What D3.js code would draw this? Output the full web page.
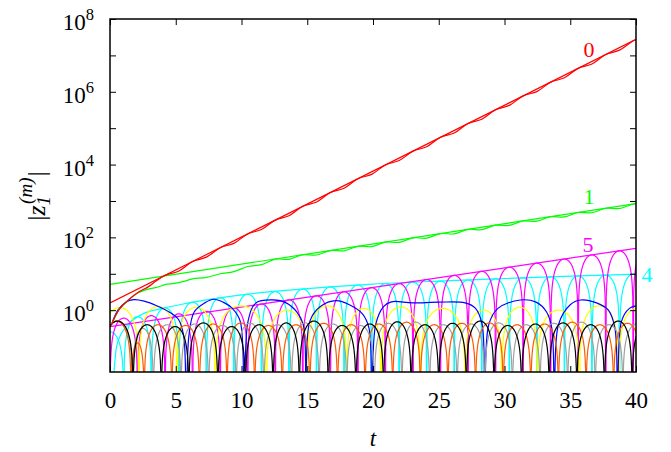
<!DOCTYPE html>
<html>
<head>
<meta charset="utf-8">
<script src="https://cdn.jsdelivr.net/npm/d3@7"></script>
<style>
  body { margin: 0; background: #fff; }
</style>
</head>
<body>
<div id="chart"></div>
<script>
// ---- data (values are log10 of |z|) ----
const tTicks = [0, 5, 10, 15, 20, 25, 30, 35, 40];
const decadeTicks = [0, 1, 2, 3, 4, 5, 6, 7, 8];
const decadeLabels = [0, 2, 4, 6, 8];

// straight envelopes [t, log10]
const redLine = [[0, 0.2], [40, 7.44]];
const greenLine = [[0, 0.708], [40, 2.93]];
const magentaLine = [[0, -0.45], [40, 1.70]];
const cyanLine = [[0.3, -1.7], [0.5, -1.0], [0.9, -0.62], [1.5, -0.35], [2.4, -0.12], [4, 0.05], [6, 0.2],
  [10, 0.42], [15, 0.59], [20, 0.716], [25, 0.8], [30, 0.87], [35, 0.935], [40, 0.99]];

// wavy curves [t, log10]
const redWavy = [[0.1, -0.41], [0.7, 0.02], [1.4, 0.28], [2.1, 0.48], [2.9, 0.64], [3.5, 0.8], [4.19, 0.958],
  [5.24, 1.078], [6.28, 1.337], [7.33, 1.457], [8.38, 1.717], [9.42, 1.835], [10.47, 2.095], [11.52, 2.215],
  [12.57, 2.475], [13.61, 2.593], [14.66, 2.853], [15.71, 2.974], [16.76, 3.234], [17.80, 3.352], [18.85, 3.612],
  [19.90, 3.732], [20.94, 3.990], [21.99, 4.110], [23.04, 4.370], [24.08, 4.488], [25.13, 4.749], [26.18, 4.869],
  [27.23, 5.129], [28.27, 5.247], [29.32, 5.507], [30.37, 5.627], [31.42, 5.887], [32.46, 6.005], [33.51, 6.265],
  [34.56, 6.385], [35.60, 6.644], [36.65, 6.764], [37.70, 7.024], [38.75, 7.144], [39.79, 7.402], [40, 7.43]];
const greenWavy = [[0.1, -0.41], [0.7, 0.02], [1.4, 0.28], [2.1, 0.47], [2.9, 0.58], [3.6, 0.63], [4.19, 0.7],
  [4.9, 0.735], [5.6, 0.79], [6.28, 0.86], [7.33, 0.9], [8.38, 1.0], [9.42, 1.06], [10.47, 1.2], [11.52, 1.25],
  [12.57, 1.40], [13.61, 1.398], [14.66, 1.522], [15.71, 1.515], [16.76, 1.638], [17.80, 1.631], [18.85, 1.754],
  [19.90, 1.747], [20.94, 1.870], [21.99, 1.863], [23.04, 1.987], [24.08, 1.979], [25.13, 2.103], [26.18, 2.096],
  [27.23, 2.219], [28.27, 2.212], [29.32, 2.335], [30.37, 2.329], [31.42, 2.452], [32.46, 2.445], [33.51, 2.568],
  [34.56, 2.561], [35.60, 2.684], [36.65, 2.677], [37.70, 2.800], [38.75, 2.794], [39.79, 2.916], [40, 2.92]];
const blueWavy = [[0.1, -0.41], [0.6, 0.0], [1.2, 0.22], [1.8, 0.29], [2.6, 0.25], [3.5, 0.13], [4.5, -0.05],
  [5.2, -0.25], [5.6, -0.7], [5.8, -2.5], [6.0, -0.7], [6.4, -0.05], [7.2, 0.2], [7.9, 0.3], [8.6, 0.22],
  [9.3, 0.05], [9.9, -0.3], [10.2, -2.5], [10.5, -0.3], [11.1, 0.2], [12.4, 0.28], [13.4, 0.2], [14.2, -0.05],
  [14.7, -0.4], [14.9, -2.5], [15.2, -0.3], [16.0, 0.1], [17.2, 0.26], [18.2, 0.15], [19.2, -0.1], [19.7, -0.5],
  [19.9, -2.5], [20.2, -0.4], [20.8, 0.1], [21.4, 0.23], [23.0, 0.2], [25.0, 0.22], [27.0, 0.2], [27.8, 0.05],
  [28.3, -0.4], [28.5, -2.5], [28.8, -0.4], [29.5, 0.05], [31.2, 0.28], [32.4, 0.22], [33.2, -0.05], [33.6, -0.5],
  [33.8, -2.5], [34.1, -0.4], [35.0, 0.15], [35.8, 0.28], [37.0, 0.2], [37.9, 0.0], [38.4, -0.5], [38.6, -2.5],
  [38.9, -0.3], [39.5, 0.05], [40, 0.12]];

// arches: consecutive zeros (t) and peak height (log10) of each arch
const magentaZeros = [0, 2.09, 4.19, 6.28, 8.38, 10.47, 12.57, 14.66, 16.76, 18.85, 20.94, 23.04, 25.13, 27.23,
  29.32, 31.42, 33.51, 35.60, 37.70, 39.79, 41.89];
const magentaPeaks = [-0.22, -0.15, -0.1, -0.03, 0.06, 0.169, 0.281, 0.394, 0.506, 0.619, 0.731, 0.843, 0.956,
  1.068, 1.181, 1.293, 1.406, 1.518, 1.631, 1.743];
const cyanZeros = [-0.99, 1.05, 3.14, 5.24, 7.33, 9.42, 11.52, 13.61, 15.71, 17.80, 19.90, 21.99, 24.08, 26.18,
  28.27, 30.37, 32.46, 34.56, 36.65, 38.75, 40.84];
const cyanPeaks = [-0.6, -0.18, 0.06, 0.22, 0.34, 0.44, 0.51, 0.58, 0.64, 0.69, 0.73, 0.77, 0.80, 0.83, 0.86,
  0.89, 0.915, 0.94, 0.965, 0.99];
const yellowZeros = [-0.7, 2.2, 5.1, 8.0, 11.9, 15.0, 18.0, 20.6, 23.6, 27.0, 29.8, 32.5, 35.7, 38.7, 41.5];
const yellowPeaks = [0.07, 0.1, 0.08, 0.12, 0.0, 0.12, 0.05, 0.09, 0.05, 0.0, 0.08, 0.0, 0.12, 0.06];
const blackZeros = [-0.6, 1.75, 3.9, 6.0, 8.2, 10.3, 12.4, 14.4, 16.6, 18.7, 20.8, 22.9, 25.0, 27.1, 29.2, 31.3,
  33.4, 35.5, 37.6, 39.7, 41.8];
const blackPeaks = [-0.3, -0.4, -0.45, -0.35, -0.45, -0.4, -0.35, -0.3, -0.42, -0.38, -0.32, -0.4, -0.36, -0.3,
  -0.42, -0.38, -0.35, -0.4, -0.3, -0.38];
const orangeZeros = [-0.6, 1.6, 2.6, 4.7, 6.8, 8.9, 11.0, 13.1, 15.2, 17.3, 19.4, 21.5, 23.6, 25.7, 27.8, 29.9,
  32.0, 34.1, 36.2, 38.3, 40.4];
const orangePeaks = [-0.3, -0.9, -0.4, -0.42, -0.38, -0.35, -0.42, -0.4, -0.36, -0.4, -0.38, -0.33, -0.4, -0.36,
  -0.35, -0.4, -0.38, -0.33, -0.4, -0.36];
const greyZeros = [-0.6, 1.7, 3.3, 5.4, 7.5, 9.6, 11.7, 13.8, 15.9, 18.0, 20.1, 22.2, 24.3, 26.4, 28.5, 30.6,
  32.7, 34.8, 36.9, 39.0, 41.1];
const greyPeaks = [-0.3, -0.5, -0.4, -0.38, -0.42, -0.36, -0.4, -0.35, -0.38, -0.42, -0.36, -0.33, -0.4, -0.38,
  -0.35, -0.4, -0.36, -0.33, -0.4, -0.38];

// curve labels
const labelText = ["0", "1", "5", "4"];
const labelColor = ["#ff0000", "#00ff00", "#ff00ff", "#00ffff"];

// ---- chart ----
const FONT = "Liberation Serif";
const W = 671, H = 452;
const margin = {top: 19, right: 35, bottom: 80, left: 110};
const width = W - margin.left - margin.right;   // 526
const height = H - margin.top - margin.bottom;  // 353

const svg = d3.select("#chart").append("svg")
  .attr("width", W).attr("height", H)
  .attr("font-family", FONT)
  .style("background", "#fff");

const g = svg.append("g")
  .attr("transform", "translate(" + margin.left + "," + margin.top + ")");

const x = d3.scaleLinear().domain([0, 40]).range([0, width]);
const y = d3.scaleLog().domain([0.02, 1e8]).range([height, 0]);

g.append("clipPath").attr("id", "plotclip")
  .append("rect").attr("width", width).attr("height", height);

const plot = g.append("g").attr("clip-path", "url(#plotclip)");

const logLine = d3.line()
  .x(d => x(d[0]))
  .y(d => y(Math.max(Math.pow(10, d[1]), 1e-3)));

function archPoints(zeros, peaks) {
  return peaks.map((p, i) => {
    const t0 = zeros[i], t1 = zeros[i + 1];
    return d3.range(0, 61).map(k => {
      const u = k / 60;
      const v = Math.pow(10, p) * Math.sin(Math.PI * u);
      return [t0 + (t1 - t0) * u, Math.log10(Math.max(v, 1e-3))];
    });
  });
}

function drawArches(zeros, peaks, color) {
  plot.append("g").selectAll("path")
    .data(archPoints(zeros, peaks))
    .enter().append("path")
    .attr("d", logLine.curve(d3.curveLinear))
    .attr("fill", "none")
    .attr("stroke", color)
    .attr("stroke-width", 1.2);
}

function drawCurve(data, color, curve) {
  plot.append("path")
    .datum(data)
    .attr("d", logLine.curve(curve || d3.curveLinear))
    .attr("fill", "none")
    .attr("stroke", color)
    .attr("stroke-width", 1.2);
}

drawArches(cyanZeros, cyanPeaks, "#00ffff");
drawCurve(cyanLine, "#00ffff", d3.curveMonotoneX);
drawArches(magentaZeros, magentaPeaks, "#ff00ff");
drawCurve(magentaLine, "#ff00ff");
drawArches(yellowZeros, yellowPeaks, "#ffff00");
drawCurve(blueWavy, "#0000ff", d3.curveCatmullRom);
drawArches(greyZeros, greyPeaks, "#a0a0a0");
drawArches(orangeZeros, orangePeaks, "#ff5a00");
drawArches(blackZeros, blackPeaks, "#000000");
drawCurve(greenLine, "#00ff00");
drawCurve(greenWavy, "#00ff00", d3.curveCatmullRom);
drawCurve(redLine, "#ff0000");
drawCurve(redWavy, "#ff0000", d3.curveCatmullRom);

// ---- axes ----
const axisStyle = sel => {
  sel.attr("font-family", FONT);
  sel.select(".domain").remove();
  sel.selectAll("line").attr("stroke", "#000").attr("stroke-width", 1);
  sel.selectAll("text").attr("font-size", 23).attr("fill", "#000");
};

g.append("g").attr("transform", "translate(0," + height + ")")
  .call(d3.axisBottom(x).tickValues(tTicks).tickSize(-6).tickPadding(20).tickFormat(d3.format("d")))
  .call(axisStyle);
g.append("g")
  .call(d3.axisTop(x).tickValues(tTicks).tickSize(-6).tickFormat(""))
  .call(axisStyle);
g.append("g")
  .call(d3.axisLeft(y).tickValues(decadeTicks.map(e => Math.pow(10, e))).tickSize(-6).tickFormat(""))
  .call(axisStyle);
g.append("g").attr("transform", "translate(" + width + ",0)")
  .call(d3.axisRight(y).tickValues(decadeTicks.map(e => Math.pow(10, e))).tickSize(-6).tickFormat(""))
  .call(axisStyle);

// y tick labels 10^n
const ylab = g.append("g").selectAll("text")
  .data(decadeLabels)
  .enter().append("text")
  .attr("x", -16)
  .attr("y", d => y(Math.pow(10, d)) + 11)
  .attr("text-anchor", "end")
  .attr("font-size", 23);
ylab.append("tspan").text("10");
ylab.append("tspan").attr("dy", -10).attr("font-size", 16.5).text(d => d);

// frame
g.append("rect")
  .attr("width", width).attr("height", height)
  .attr("fill", "none").attr("stroke", "#000").attr("stroke-width", 1.5);

// axis titles
svg.append("text")
  .attr("x", 373).attr("y", 446)
  .attr("text-anchor", "middle")
  .attr("font-size", 23).attr("font-style", "italic")
  .text("t");

const yt = svg.append("text")
  .attr("transform", "translate(45,196) rotate(-90)")
  .attr("text-anchor", "middle")
  .attr("font-size", 26);
yt.append("tspan").text("|");
yt.append("tspan").attr("font-style", "italic").text("z");
yt.append("tspan").attr("font-style", "italic").attr("font-size", 19).attr("dy", 5).text("1");
yt.append("tspan").attr("font-style", "italic").attr("font-size", 19).attr("dx", -8).attr("dy", -18).text("(m)");
yt.append("tspan").attr("dy", 13).attr("dx", 1).text("|");

// curve labels
const labelX = [589, 589, 588, 647];
const labelY = [57, 204, 252, 282];
svg.append("g").selectAll("text")
  .data(labelText)
  .enter().append("text")
  .attr("x", (d, i) => labelX[i])
  .attr("y", (d, i) => labelY[i])
  .attr("text-anchor", "middle")
  .attr("font-size", 22)
  .attr("fill", (d, i) => labelColor[i])
  .text(d => d);

svg.selectAll("text").attr("font-family", FONT);
</script>
</body>
</html>
